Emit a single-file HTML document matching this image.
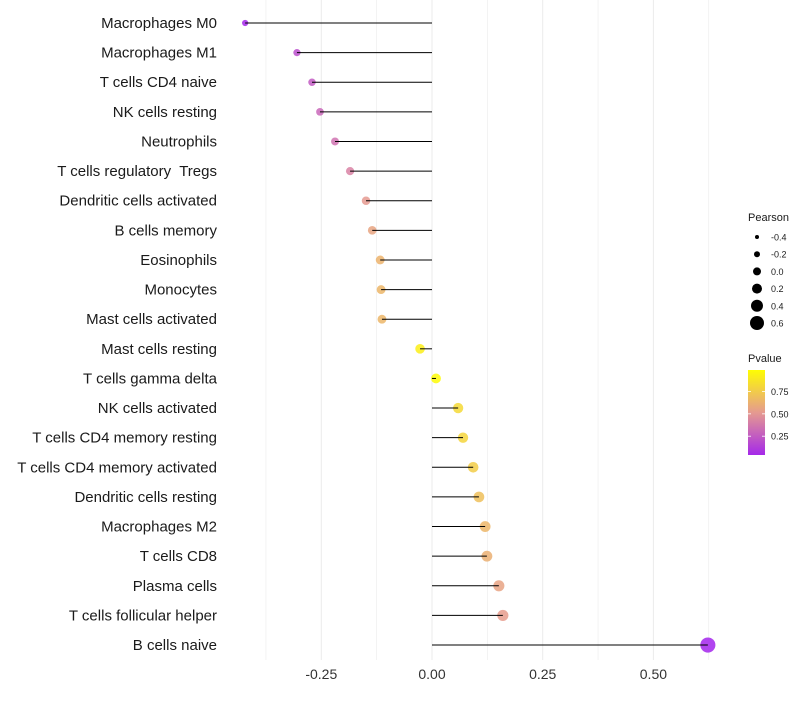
<!DOCTYPE html>
<html><head><meta charset="utf-8"><style>
body{margin:0;background:#fff}
svg text{font-family:"Liberation Sans",sans-serif;white-space:pre}
</style></head><body>
<svg id="chart" width="800" height="700" xmlns="http://www.w3.org/2000/svg"></svg>
<script>
const categories=["Macrophages M0","Macrophages M1","T cells CD4 naive","NK cells resting","Neutrophils","T cells regulatory  Tregs","Dendritic cells activated","B cells memory","Eosinophils","Monocytes","Mast cells activated","Mast cells resting","T cells gamma delta","NK cells activated","T cells CD4 memory resting","T cells CD4 memory activated","Dendritic cells resting","Macrophages M2","T cells CD8","Plasma cells","T cells follicular helper","B cells naive"];
const pearson=[-0.422,-0.305,-0.271,-0.253,-0.219,-0.185,-0.149,-0.135,-0.117,-0.115,-0.113,-0.027,0.009,0.059,0.070,0.093,0.106,0.120,0.124,0.151,0.160,0.623];
const pvalues=[0.03,0.2,0.25,0.3,0.35,0.42,0.52,0.57,0.64,0.65,0.65,0.92,0.98,0.82,0.8,0.76,0.7,0.65,0.62,0.56,0.53,0.02];
const xTicks=[-0.25,0,0.25,0.5];
const xTickLabels=["-0.25","0.00","0.25","0.50"];
const sizeLegend=[-0.4,-0.2,0.0,0.2,0.4,0.6];
const sizeLegendLabels=["-0.4","-0.2","0.0","0.2","0.4","0.6"];
const colorLegend=[0.75,0.50,0.25];
const colorLegendLabels=["0.75","0.50","0.25"];

const svg=document.getElementById('chart');
const NS="http://www.w3.org/2000/svg";
const x=v=>432+v*442.8;
const y=i=>23+i*29.62;
const r=v=>Math.max(1.5,4.9+4.25*v);
const stops=[[0,[160,32,240]],[0.5,[228,150,150]],[1,[255,255,0]]];
function col(p){p=Math.max(0,Math.min(1,p));let a=stops[0],b=stops[1];if(p>0.5){a=stops[1];b=stops[2];}
const t=(p-a[0])/(b[0]-a[0]);const c=a[1].map((v,k)=>Math.round(v+(b[1][k]-v)*t));return `rgb(${c})`;}
function el(t,at,txt){const e=document.createElementNS(NS,t);for(const k in at)e.setAttribute(k,at[k]);if(txt!==undefined)e.textContent=txt;svg.appendChild(e);return e;}
for(let v=-0.375;v<=0.626;v+=0.125){const g=el('line',{x1:x(v),x2:x(v),y1:0,y2:660,stroke:'#ebebeb','stroke-width':Math.abs(v*4-Math.round(v*4))<1e-6?1:0.6});

}
xTicks.forEach((v,i)=>{const t=el('text',{x:x(v),y:679,'font-size':14,fill:'#333','text-anchor':'middle'},xTickLabels[i]);

});
categories.forEach((c,i)=>{
const t=el('text',{x:217,y:y(i)+5,'font-size':15,fill:'#1a1a1a','text-anchor':'end'},c);


const p=el('circle',{cx:x(pearson[i]),cy:y(i),r:r(pearson[i]),fill:col(pvalues[i]),opacity:0.85});


const s=el('line',{x1:x(0),x2:x(pearson[i]),y1:y(i),y2:y(i),stroke:'#000','stroke-width':1});


});
const lt=el('text',{x:748,y:221,'font-size':11,fill:'#1a1a1a'},'Pearson');


sizeLegend.forEach((v,i)=>{const cy=237+i*17.2;
const c=el('circle',{cx:757,cy:cy,r:2+5*(v+0.4),fill:'#000'});


const t=el('text',{x:771,y:cy+3.5,'font-size':9,fill:'#1a1a1a'},sizeLegendLabels[i]);

});
const ct=el('text',{x:748,y:362,'font-size':11,fill:'#1a1a1a'},'Pvalue');


const defs=el('defs',{});
const lg=document.createElementNS(NS,'linearGradient');lg.setAttribute('id','pg');lg.setAttribute('x1','0');lg.setAttribute('y1','1');lg.setAttribute('x2','0');lg.setAttribute('y2','0');
[[0,0.04],[0.5,0.52],[1,0.99]].forEach(([o,p])=>{const s=document.createElementNS(NS,'stop');s.setAttribute('offset',o);s.setAttribute('stop-color',col(p));lg.appendChild(s);});
defs.appendChild(lg);
const bar=el('rect',{x:748,y:370,width:17,height:85,fill:'url(#pg)'});


colorLegend.forEach((v,i)=>{const cy=455-(v-0.04)/0.95*85;
el('line',{x1:748,x2:751,y1:cy,y2:cy,stroke:'#fff','stroke-width':0.8});
el('line',{x1:762,x2:765,y1:cy,y2:cy,stroke:'#fff','stroke-width':0.8});
const t=el('text',{x:771,y:cy+3.5,'font-size':9,fill:'#1a1a1a'},colorLegendLabels[i]);

});
</script>
</body></html>
